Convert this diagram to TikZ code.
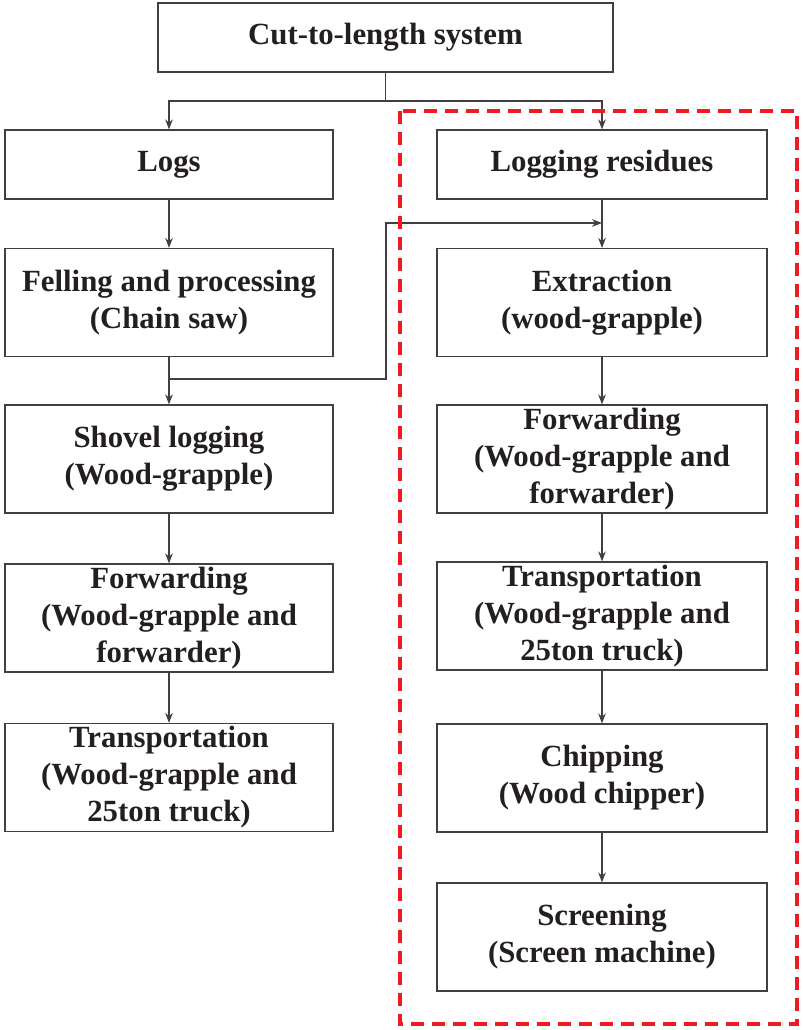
\documentclass[tikz,border=0pt]{standalone}
\usepackage{fontspec}
\setmainfont{Liberation Serif}
\usetikzlibrary{arrows.meta}
\definecolor{boxgray}{RGB}{64,64,64}
\definecolor{textblack}{RGB}{35,31,32}
\definecolor{dashred}{RGB}{237,28,36}
\tikzset{
	procbox/.style={draw=boxgray, line width=0.6pt, align=center, inner sep=0pt, text=textblack, font=\fontsize{15.4}{18.5}\selectfont\bfseries},
	leftbox/.style={procbox, minimum width=164pt, minimum height=54pt},
	rightbox/.style={procbox, minimum width=165pt, minimum height=54pt},
	flow/.style={draw=boxgray, line width=0.55pt, -{Stealth[length=5pt,width=3.8pt]}},
	plain/.style={draw=boxgray, line width=0.55pt},
}

\begin{document}
\begin{tikzpicture}[x=0.5pt, y=-0.5pt]
		%%%%% START %%%%%
		\useasboundingbox (0, 0) rectangle (803, 1030);
		
		\node[procbox, minimum width=227.5pt, minimum height=34.5pt] (ctl) at (385.5, 37.5) {Cut-to-length system};
		
		% left column
		\node[leftbox, minimum height=34.5pt] (logs) at (169, 164.5) {Logs};
		\node[leftbox] (felling) at (169, 302.5) {Felling and processing\\(Chain saw)};
		\node[leftbox] (shovel) at (169, 459) {Shovel logging\\(Wood-grapple)};
		\node[leftbox] (fwdL) at (169, 618) {Forwarding\\(Wood-grapple and\\forwarder)};
		\node[leftbox] (transL) at (169, 777.5) {Transportation\\(Wood-grapple and\\25ton truck)};
		
		% right column
		\node[rightbox, minimum height=34.5pt] (residues) at (602, 164.5) {Logging residues};
		\node[rightbox] (extract) at (602, 302.5) {Extraction\\(wood-grapple)};
		\node[rightbox] (fwdR) at (602, 459) {Forwarding\\(Wood-grapple and\\forwarder)};
		\node[rightbox] (transR) at (602, 616) {Transportation\\(Wood-grapple and\\25ton truck)};
		\node[rightbox] (chip) at (602, 778) {Chipping\\(Wood chipper)};
		\node[rightbox] (screen) at (602, 937) {Screening\\(Screen machine)};
		
		% split under the top box
		\coordinate (split) at (385.5, 101);
		\draw[plain] (ctl.south) -- (split);
		\draw[flow] (split) -| (logs.north);
		\draw[flow] (split) -| (residues.north);
		
		\draw[flow] (logs) -- (felling);
		\draw[flow] (felling) -- (shovel);
		\draw[flow] (shovel) -- (fwdL);
		\draw[flow] (fwdL) -- (transL);
		
		% felling feeds the residue chain
		\coordinate (bend) at (386, 379);
		\coordinate (merge) at (602, 223);
		\draw[flow] (felling.south |- bend) -- (bend) |- (merge);
		
		\draw[flow] (residues) -- (extract);
		\draw[flow] (extract) -- (fwdR);
		\draw[flow] (fwdR) -- (transR);
		\draw[flow] (transR) -- (chip);
		\draw[flow] (chip) -- (screen);
		
		\draw[dashred, line width=1.6pt, dash pattern=on 6.5pt off 4pt] (400, 111) rectangle (797, 1024);
		
		%%%%% END %%%%%
	\end{tikzpicture}
\end{document}
